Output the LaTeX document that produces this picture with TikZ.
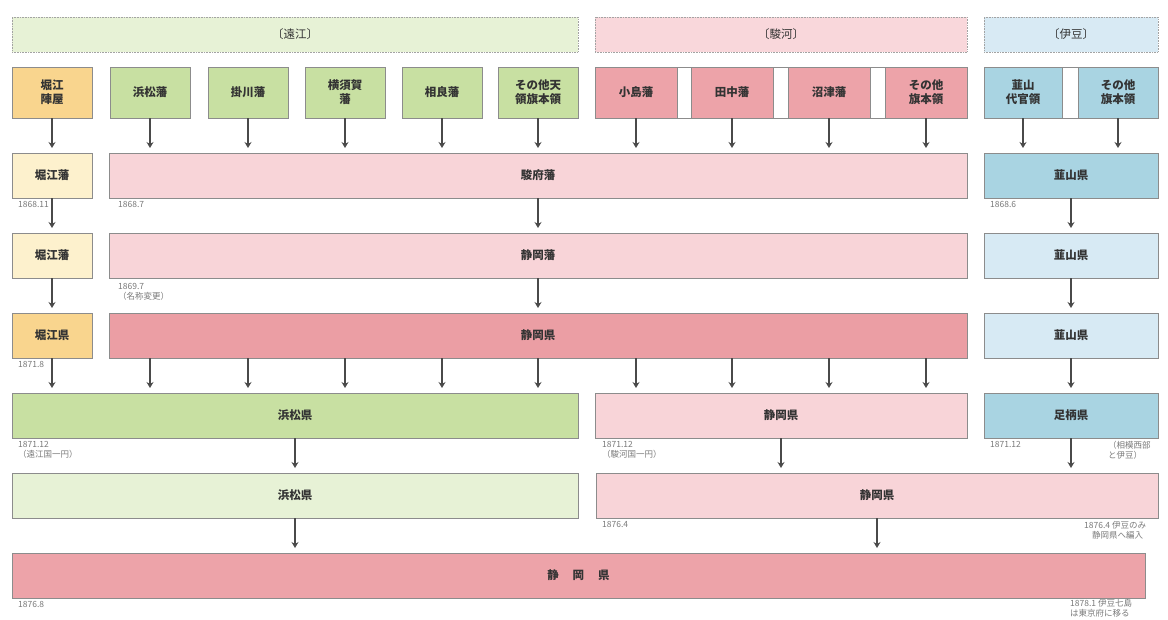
\documentclass[tikz,border=0pt]{standalone}
\usepackage{fontspec}
\setmainfont{Noto Sans CJK JP}
\usetikzlibrary{arrows.meta}
\definecolor{boxline}{HTML}{8C8C8C}
\definecolor{txt}{HTML}{333333}
\definecolor{lblc}{HTML}{7A7A7A}
\definecolor{arrc}{HTML}{4A4A4A}
\definecolor{hdrG}{HTML}{E7F2D6}
\definecolor{hdrP}{HTML}{F9D7DB}
\definecolor{hdrB}{HTML}{D8EAF4}
\definecolor{org}{HTML}{F9D58E}
\definecolor{ylw}{HTML}{FDF1CD}
\definecolor{grn}{HTML}{C8E0A2}
\definecolor{lgrn}{HTML}{E7F2D6}
\definecolor{pnk}{HTML}{EDA3A9}
\definecolor{lpnk}{HTML}{F8D4D8}
\definecolor{dpnk}{HTML}{EB9EA4}
\definecolor{blu}{HTML}{A9D4E2}
\definecolor{lblu}{HTML}{D7EAF4}
\newcommand\bx[7]{\node[#6, minimum width={(#4-#2)*1pt}, minimum height={(#5-#3)*1pt}] (#1) at ({(#2+#4)/2},{(#3+#5)/2}) {#7};}
\tikzset{
  box/.style={draw=boxline, line width=0.6pt, inner sep=0pt, outer sep=0pt, text=txt, align=center, font=\fontsize{11.5}{14}\selectfont\bfseries},
  hdr/.style={box, draw=boxline!80, densely dotted, font=\fontsize{11.5}{14}\selectfont},
  arr/.style={draw=arrc, line width=1.6pt, shorten >=5pt, -{Stealth[length=6pt,width=7pt]}},
  lbl/.style={font=\fontsize{8.5}{10.5}\selectfont, text=lblc, inner sep=0pt, anchor=north west, align=left}
}
\begin{document}
\begin{tikzpicture}[x=1pt,y=-1pt]
\useasboundingbox[fill=white] (0,0) rectangle (1168,619);
% headers
\bx{hT}{12}{17}{578}{52}{hdr, fill=hdrG}{〔遠江〕}
\bx{hS}{595}{17}{967}{52}{hdr, fill=hdrP}{〔駿河〕}
\bx{hI}{984}{17}{1158}{52}{hdr, fill=hdrB}{〔伊豆〕}
% row 1
\bx{bandS}{595}{67}{967}{118}{box, fill=white}{}
\bx{bandI}{984}{67}{1158}{118}{box, fill=white}{}
\bx{a1}{12}{67}{92}{118}{box, fill=org}{堀江\\陣屋}
\bx{a2}{110}{67}{190}{118}{box, fill=grn}{浜松藩}
\bx{a3}{208}{67}{288}{118}{box, fill=grn}{掛川藩}
\bx{a4}{305}{67}{385}{118}{box, fill=grn}{横須賀\\藩}
\bx{a5}{402}{67}{482}{118}{box, fill=grn}{相良藩}
\bx{a6}{498}{67}{578}{118}{box, fill=grn}{その他天\\領旗本領}
\bx{a7}{595}{67}{677}{118}{box, fill=pnk}{小島藩}
\bx{a8}{691}{67}{773}{118}{box, fill=pnk}{田中藩}
\bx{a9}{788}{67}{870}{118}{box, fill=pnk}{沼津藩}
\bx{a10}{885}{67}{967}{118}{box, fill=pnk}{その他\\旗本領}
\bx{a11}{984}{67}{1062}{118}{box, fill=blu}{韮山\\代官領}
\bx{a12}{1078}{67}{1158}{118}{box, fill=blu}{その他\\旗本領}
% row 2
\bx{b1}{12}{153}{92}{198}{box, fill=ylw}{堀江藩}
\bx{b2}{109}{153}{967}{198}{box, fill=lpnk}{駿府藩}
\bx{b3}{984}{153}{1158}{198}{box, fill=blu}{韮山県}
% row 3
\bx{c1}{12}{233}{92}{278}{box, fill=ylw}{堀江藩}
\bx{c2}{109}{233}{967}{278}{box, fill=lpnk}{静岡藩}
\bx{c3}{984}{233}{1158}{278}{box, fill=lblu}{韮山県}
% row 4
\bx{d1}{12}{313}{92}{358}{box, fill=org}{堀江県}
\bx{d2}{109}{313}{967}{358}{box, fill=dpnk}{静岡県}
\bx{d3}{984}{313}{1158}{358}{box, fill=lblu}{韮山県}
% row 5
\bx{e1}{12}{393}{578}{438}{box, fill=grn}{浜松県}
\bx{e2}{595}{393}{967}{438}{box, fill=lpnk}{静岡県}
\bx{e3}{984}{393}{1158}{438}{box, fill=blu}{足柄県}
% row 6
\bx{f1}{12}{473}{578}{518}{box, fill=lgrn}{浜松県}
\bx{f2}{596}{473}{1158}{518}{box, fill=lpnk}{静岡県}
% row 7
\bx{g1}{12}{553}{1145}{598}{box, fill=pnk}{静\hspace{1.2em}岡\hspace{1.2em}県}
% arrows row1 -> row2
\draw[arr] (a1.south) -- (b1.north);
\foreach \n in {a2,a3,a4,a5,a6,a7,a8,a9,a10} {\draw[arr] (\n.south) -- (\n.south |- b2.north);}
\draw[arr] (a11.south) -- (a11.south |- b3.north);
\draw[arr] (a12.south) -- (a12.south |- b3.north);
% row2 -> row3
\draw[arr] (b1.south) -- (c1.north);
\draw[arr] (b2.south) -- (c2.north);
\draw[arr] (b3.south) -- (c3.north);
% row3 -> row4
\draw[arr] (c1.south) -- (d1.north);
\draw[arr] (c2.south) -- (d2.north);
\draw[arr] (c3.south) -- (d3.north);
% row4 -> row5
\draw[arr] (d1.south) -- (d1.south |- e1.north);
\foreach \n in {a2,a3,a4,a5,a6} {\draw[arr] (\n.south |- d2.south) -- (\n.south |- e1.north);}
\foreach \n in {a7,a8,a9,a10} {\draw[arr] (\n.south |- d2.south) -- (\n.south |- e2.north);}
\draw[arr] (d3.south) -- (e3.north);
% row5 -> row6
\draw[arr] (e1.south) -- (f1.north);
\draw[arr] (e2.south) -- (e2.south |- f2.north);
\draw[arr] (e3.south) -- (e3.south |- f2.north);
% row6 -> row7
\draw[arr] (f1.south) -- (f1.south |- g1.north);
\draw[arr] (f2.south) -- (f2.south |- g1.north);
% date labels
\node[lbl] (l1) at (18,201) {1868.11};
\node[lbl] (l2) at (118,201) {1868.7};
\node[lbl] (l3) at (990,201) {1868.6};
\node[lbl] (l4) at (118,283) {1869.7\\（名称変更）};
\node[lbl] (l5) at (18,361) {1871.8};
\node[lbl] (l6) at (18,441) {1871.12\\（遠江国一円）};
\node[lbl] (l7) at (602,441) {1871.12\\（駿河国一円）};
\node[lbl] (l8) at (990,441) {1871.12};
\node[lbl] (l9) at (1108,441) {（相模西部\\と伊豆）};
\node[lbl] (l10) at (602,521) {1876.4};
\node[lbl] (l11) at (1084,521) {1876.4 伊豆のみ\\\hspace*{8pt}静岡県へ編入};
\node[lbl] (l12) at (18,601) {1876.8};
\node[lbl] (l13) at (1070,599) {1878.1 伊豆七島\\は東京府に移る};
\end{tikzpicture}
\end{document}
